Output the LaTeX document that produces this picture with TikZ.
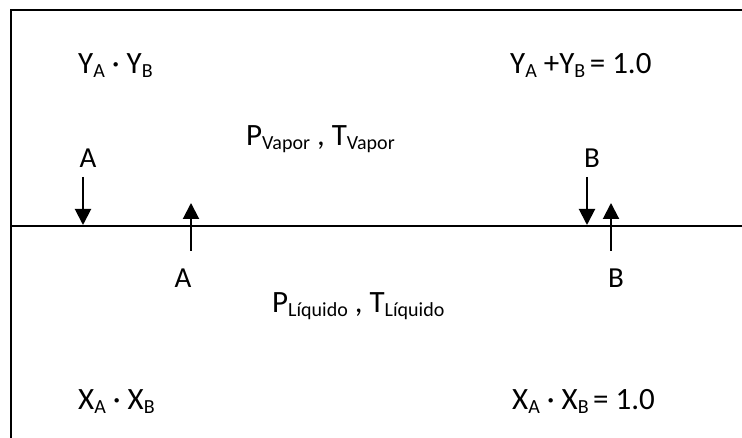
\documentclass[tikz,border=0pt]{standalone}
\usepackage{fontspec}
\setmainfont{Carlito}
\usetikzlibrary{arrows.meta}
\newcommand{\mysub}[1]{\raisebox{-3.5pt}{\fontsize{20}{22}\selectfont #1}}
\tikzset{
  txt/.style={inner sep=0pt, anchor=base west, font=\fontsize{31}{34}\selectfont},
  lbl/.style={inner sep=0pt, anchor=base, font=\fontsize{29}{32}\selectfont},
  frame/.style={line width=2pt},
  flux/.style={line width=2pt, -{Triangle[width=16pt,length=16pt]}}
}
\begin{document}
\begin{tikzpicture}[x=1pt,y=1pt]
\useasboundingbox (0,0) rectangle (742,438);
% frame and interface
\coordinate (bl) at (11,0);
\coordinate (tl) at (11,428);
\coordinate (tr) at (742,428);
\coordinate (il) at (11,212);
\coordinate (ir) at (742,212);
\draw[frame] (bl) -- (tl) -- (tr);
\draw[frame] (il) -- (ir);
% texts
\node[txt] (ya) at (78,364) {Y\mysub{A} · Y\mysub{B}};
\node[txt] (ysum) at (510,364) {Y\mysub{A} +Y\mysub{B\ }= 1.0};
\node[txt] (pv) at (246,292) {P\mysub{Vapor} , T\mysub{Vapor}};
\node[txt] (pl) at (272,125) {P\mysub{Líquido} , T\mysub{Líquido}};
\node[txt] (xa) at (78,28) {X\mysub{A} · X\mysub{B}};
\node[txt] (xsum) at (512,28) {X\mysub{A} · X\mysub{B\ }= 1.0};
% labels
\node[lbl] (a1) at (88,270) {A};
\node[lbl] (a2) at (183,150) {A};
\node[lbl] (b1) at (592,270) {B};
\node[lbl] (b2) at (616,150) {B};
% arrows
\coordinate (a1s) at (83,261);
\coordinate (a1e) at (83,213);
\coordinate (a2s) at (191,187);
\coordinate (a2e) at (191,235);
\coordinate (b1s) at (587,261);
\coordinate (b1e) at (587,213);
\coordinate (b2s) at (611,187);
\coordinate (b2e) at (611,235);
\draw[flux] (a1s) -- (a1e);
\draw[flux] (a2s) -- (a2e);
\draw[flux] (b1s) -- (b1e);
\draw[flux] (b2s) -- (b2e);
\end{tikzpicture}
\end{document}
